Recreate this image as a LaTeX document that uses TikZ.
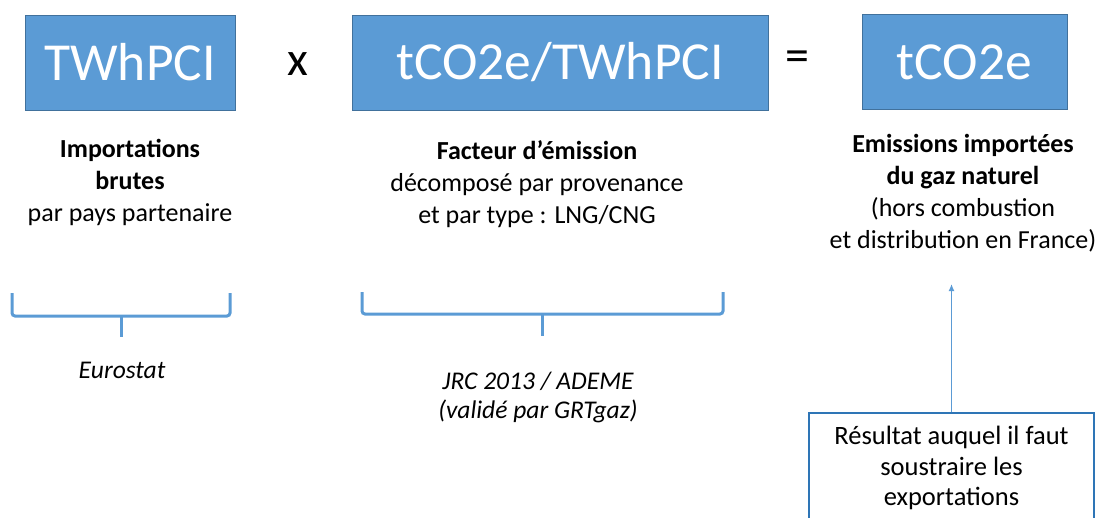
\documentclass[tikz,border=0pt]{standalone}
\usepackage{fontspec}
\setmainfont{Carlito}
\usetikzlibrary{positioning,arrows.meta}
\definecolor{unitblue}{HTML}{5B9BD5}
\definecolor{unitedge}{HTML}{41719C}
\definecolor{noteedge}{HTML}{2E75B6}
\tikzset{
	unit/.style={rectangle,draw=unitedge,fill=unitblue,text=white,thick,minimum height=95pt,inner sep=0pt,font=\fontsize{53.5}{60}\selectfont},
	op/.style={inner sep=0pt,font=\fontsize{48}{50}\selectfont},
	desc/.style={align=center,inner sep=0pt,font=\fontsize{26}{32}\selectfont},
	src/.style={align=center,inner sep=0pt,font=\fontsize{25.5}{29}\selectfont\itshape},
	brace/.style={draw=unitblue,line width=3pt,rounded corners=3pt},
	note/.style={rectangle,draw=noteedge,line width=1.5pt,align=center,inner sep=0pt,font=\fontsize{26.5}{30.5}\selectfont},
	post/.style={-{Latex[length=7pt,width=6pt]},draw=unitblue,line width=1.3pt}
}
\begin{document}
\begin{tikzpicture}[x=1pt,y=-1pt]
\useasboundingbox (0,0) rectangle (1105,517);
\clip (0,0) rectangle (1105,517);
% the product
\node[unit,minimum width=210pt] (Energy) at (130,62.5) {TWhPCI};
\node[op] (Times) at (298,64) {x};
\node[unit,minimum width=416pt] (Factor) at (560,62.5) {tCO2e/TWhPCI};
\node[op] (Equals) at (797,61) {=};
\node[unit,minimum width=205pt] (Result) at (964.5,62) {tCO2e};
% what each term stands for
\node[desc] (EnergyDesc) at (130,182) {\textbf{Importations}\\\textbf{brutes}\\par pays partenaire};
\node[desc] (FactorDesc) at (537,184) {\textbf{Facteur d’émission}\\décomposé par provenance\\et par type : LNG/CNG};
\node[desc] (ResultDesc) at (963,193) {\textbf{Emissions importées}\\\textbf{du gaz naturel}\\(hors combustion\\et distribution en France)};
% sources
\coordinate (EnergyL) at (12,293);
\coordinate (EnergyR) at (230,293);
\coordinate (EnergyTip) at (121,337);
\draw[brace] (EnergyL) -- (EnergyL|-0,316) -- (EnergyR|-0,316) -- (EnergyR);
\draw[brace] (EnergyTip|-0,315) -- (EnergyTip);
\node[src] (Eurostat) at (122,370) {Eurostat};
\coordinate (FactorL) at (362,292);
\coordinate (FactorR) at (723,292);
\coordinate (FactorTip) at (542,336);
\draw[brace] (FactorL) -- (FactorL|-0,314) -- (FactorR|-0,314) -- (FactorR);
\draw[brace] (FactorTip|-0,313) -- (FactorTip);
\node[src] (JRC) at (538,397) {JRC 2013 / ADEME\\(validé par GRTgaz)};
% remark on the result
\node[note,minimum width=285pt,minimum height=110pt] (Note) at (951.5,468) {Résultat auquel il faut\\soustraire les\\exportations};
\coordinate (NoteTarget) at (951.5,284);
\draw[post] (Note.north) -- (NoteTarget);
\end{tikzpicture}
\end{document}
